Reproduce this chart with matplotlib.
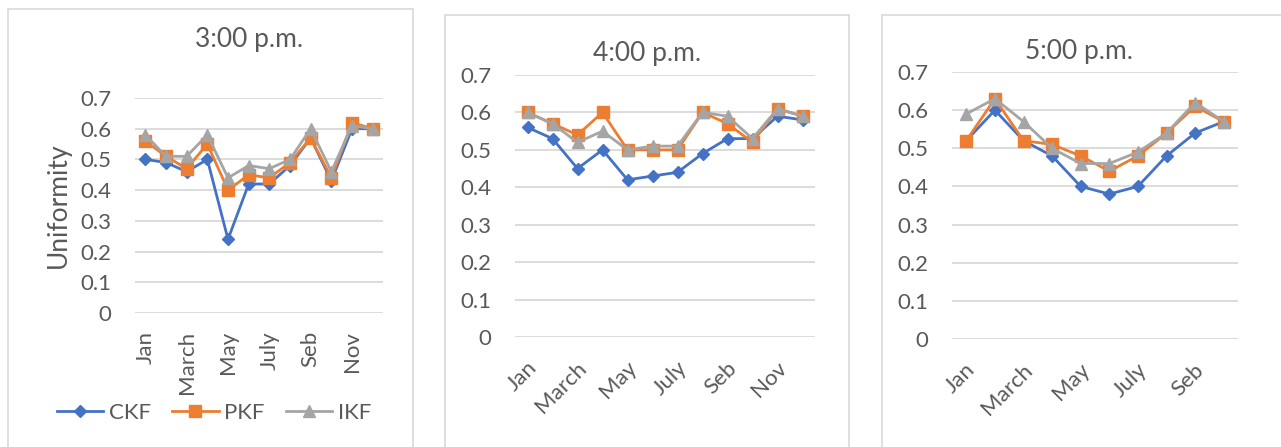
import matplotlib
matplotlib.use("Agg")
import matplotlib.pyplot as plt
from matplotlib.patches import Rectangle
from matplotlib.lines import Line2D
import matplotlib.transforms as mtransforms

plt.rcParams["font.family"] = ["Lato", "DejaVu Sans"]

months = ["Jan", "Feb", "March", "April", "May", "June",
          "July", "Aug", "Seb", "Oct", "Nov", "Dec"]
series_names = ["CKF", "PKF", "IKF"]

# uniformity at 3:00 p.m. (Jan..Dec)
ckf_3pm = [0.50, 0.49, 0.46, 0.50, 0.24, 0.42, 0.42, 0.48, 0.57, 0.43, 0.60, 0.60]
pkf_3pm = [0.56, 0.51, 0.47, 0.55, 0.40, 0.45, 0.44, 0.49, 0.57, 0.44, 0.62, 0.60]
ikf_3pm = [0.58, 0.51, 0.51, 0.58, 0.44, 0.48, 0.47, 0.50, 0.60, 0.46, 0.61, 0.60]

# uniformity at 4:00 p.m. (Jan..Dec)
ckf_4pm = [0.56, 0.53, 0.45, 0.50, 0.42, 0.43, 0.44, 0.49, 0.53, 0.53, 0.59, 0.58]
pkf_4pm = [0.60, 0.57, 0.54, 0.60, 0.50, 0.50, 0.50, 0.60, 0.57, 0.52, 0.61, 0.59]
ikf_4pm = [0.60, 0.57, 0.52, 0.55, 0.50, 0.51, 0.51, 0.60, 0.59, 0.53, 0.61, 0.59]

# uniformity at 5:00 p.m. (Jan..Oct)
ckf_5pm = [0.52, 0.60, 0.52, 0.48, 0.40, 0.38, 0.40, 0.48, 0.54, 0.57]
pkf_5pm = [0.52, 0.63, 0.52, 0.51, 0.48, 0.44, 0.48, 0.54, 0.61, 0.57]
ikf_5pm = [0.59, 0.63, 0.57, 0.50, 0.46, 0.46, 0.49, 0.54, 0.62, 0.57]

yticks = [0, 0.1, 0.2, 0.3, 0.4, 0.5, 0.6, 0.7]

COLORS = ["#4472C4", "#ED7D31", "#A5A5A5"]
MARKERS = ["D", "s", "^"]
MSIZES = [6.5, 8, 9]
TEXT = "#595959"
GRID = "#D9D9D9"

W, H = 1281, 447
fig = plt.figure(figsize=(W / 100, H / 100), dpi=100)


def px_axes(x0, y0, x1, y1):
    # axes placed by pixel corners (top-left origin)
    return fig.add_axes([x0 / W, 1 - y1 / H, (x1 - x0) / W, (y1 - y0) / H])


def chart_box(x0, y0, x1):
    fig.add_artist(Rectangle((x0 / W, -0.2), (x1 - x0) / W, 1.2 - y0 / H,
                             transform=fig.transFigure, fill=False,
                             ec=GRID, lw=1.2))


def draw_panel(ax, title, data, rot, title_xy):
    n = len(data[0])
    x = list(range(n))
    for vals, c, m, ms in zip(data, COLORS, MARKERS, MSIZES):
        ax.plot(x, vals, color=c, lw=2, marker=m, ms=ms, mec=c, mfc=c,
                clip_on=False, zorder=3)
    ax.set_xlim(-0.5, n - 0.5)
    ax.set_ylim(0, 0.7)
    ax.set_yticks(yticks)
    ax.set_yticklabels(["0" if v == 0 else f"{v:.1f}" for v in yticks])
    ax.yaxis.grid(True, color=GRID, lw=1.3)
    ax.set_axisbelow(True)
    for s in ax.spines.values():
        s.set_visible(False)
    ax.tick_params(length=0, labelsize=16, labelcolor=TEXT)
    ax.tick_params(axis="y", pad=17)
    ax.set_xticks(x[::2])
    if rot == 90:
        ax.set_xticklabels(months[:n:2], rotation=90, ha="center", va="top")
        ax.tick_params(axis="x", pad=13)
    else:
        ax.set_xticklabels(months[:n:2], rotation=45, ha="right",
                           va="center", rotation_mode="anchor")
        ax.tick_params(axis="x", pad=20)
        shift = mtransforms.ScaledTranslation(6 / 100, 0, fig.dpi_scale_trans)
        for lbl in ax.get_xticklabels():
            lbl.set_transform(lbl.get_transform() + shift)
    fig.text(title_xy[0] / W, 1 - title_xy[1] / H, title, ha="center",
             va="center", fontsize=19, color=TEXT)


chart_box(7.5, 8.5, 412.5)
chart_box(445, 15, 848.5)
chart_box(882, 15, 1300)

ax1 = px_axes(135, 98, 383, 313)
draw_panel(ax1, "3:00 p.m.", [ckf_3pm, pkf_3pm, ikf_3pm], 90, (249, 39))
ax1.set_ylabel("Uniformity", fontsize=19, color=TEXT, labelpad=7)

ax2 = px_axes(515, 75, 815, 337)
draw_panel(ax2, "4:00 p.m.", [ckf_4pm, pkf_4pm, ikf_4pm], 45, (647, 54))

ax3 = px_axes(952, 72, 1238, 339)
draw_panel(ax3, "5:00 p.m.", [ckf_5pm, pkf_5pm, ikf_5pm], 45, (1079, 51))

handles = [Line2D([], [], color=c, lw=2, marker=m, ms=ms, mec=c, mfc=c)
           for c, m, ms in zip(COLORS, MARKERS, MSIZES)]
leg = fig.legend(handles, series_names, loc="center", ncol=3,
                 bbox_to_anchor=(214 / W, 1 - 413 / H), frameon=False,
                 fontsize=16, handlelength=2.1, handletextpad=0.25,
                 columnspacing=0.95)
for t in leg.get_texts():
    t.set_color(TEXT)

fig.savefig("out.png", dpi=100)
